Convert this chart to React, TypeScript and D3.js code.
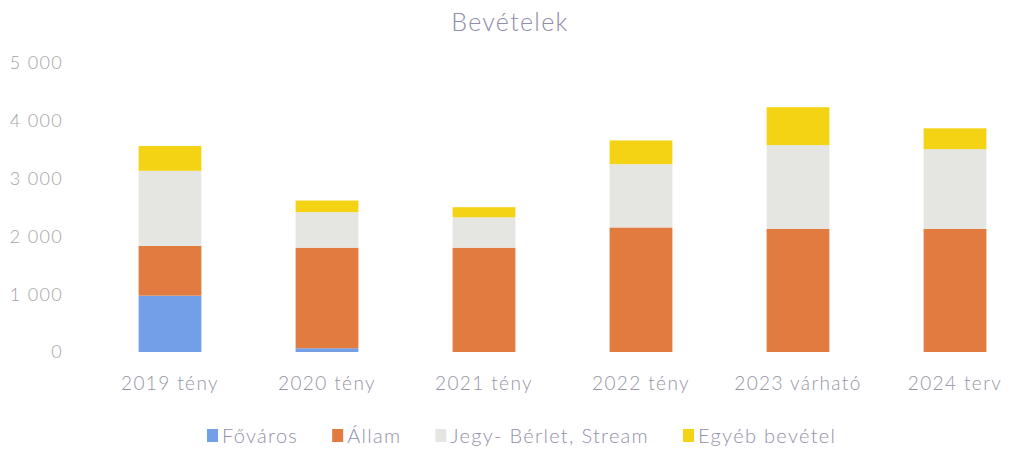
import { useEffect, useRef } from 'react';
import * as d3 from 'd3';

const categories = ['2019 tény', '2020 tény', '2021 tény', '2022 tény', '2023 várható', '2024 terv'];
const seriesNames = ['Főváros', 'Állam', 'Jegy- Bérlet, Stream', 'Egyéb bevétel'];
const fovaros = [975, 65, 0, 0, 0, 0];
const allam = [860, 1740, 1805, 2155, 2130, 2130];
const jegy = [1300, 615, 525, 1095, 1450, 1380];
const egyeb = [430, 200, 175, 410, 655, 360];
const yTicks = [0, 1000, 2000, 3000, 4000, 5000];

const colors = ['#739fe9', '#e27b40', '#e5e5e2', '#f4d314'];

const App = () => {
  const svgRef = useRef<SVGSVGElement>(null);

  const width = 1010;
  const height = 453;

  useEffect(() => {
    if (!svgRef.current) return;
    const svg = d3.select(svgRef.current);
    svg.selectAll('*').remove();

    const font = 'Lato, "Open Sans", sans-serif';

    // Title
    svg.append('text')
      .attr('x', 510)
      .attr('y', 31)
      .attr('text-anchor', 'middle')
      .style('font-family', font)
      .style('font-size', '25px')
      .style('font-weight', 300)
      .style('letter-spacing', '1.3px')
      .attr('fill', '#8e8ca8')
      .text('Bevételek');

    const x = d3.scaleBand<string>()
      .domain(categories)
      .range([91.5, 1033.5])
      .paddingInner(0.6)
      .paddingOuter(0.3);

    const y = d3.scaleLinear().domain([0, 5000]).range([352, 63]);

    const rows = categories.map((c, i) => ({
      cat: c,
      s0: fovaros[i],
      s1: allam[i],
      s2: jegy[i],
      s3: egyeb[i],
    }));

    const stack = d3.stack<any>().keys(['s0', 's1', 's2', 's3']);
    const stacked = stack(rows);

    stacked.forEach((layer, li) => {
      svg.append('g')
        .selectAll('rect')
        .data(layer)
        .enter().append('rect')
        .attr('x', (d: any) => x(d.data.cat) || 0)
        .attr('width', x.bandwidth())
        .attr('y', (d) => y(d[1]))
        .attr('height', (d) => Math.max(0, y(d[0]) - y(d[1])))
        .attr('fill', colors[li]);
    });

    // Y axis labels
    const fmt = (v: number) => d3.format(',')(v).replace(/,/g, ' ');
    svg.append('g')
      .selectAll('text')
      .data(yTicks)
      .enter().append('text')
      .attr('x', 63)
      .attr('y', (d) => y(d))
      .attr('dy', '0.35em')
      .attr('text-anchor', 'end')
      .style('font-family', font)
      .style('font-size', '18px')
      .style('font-weight', 300)
      .style('letter-spacing', '1.3px')
      .attr('fill', '#a3a3a3')
      .text(fmt);

    // X axis labels
    svg.append('g')
      .selectAll('text')
      .data(categories)
      .enter().append('text')
      .attr('x', (d) => (x(d) || 0) + x.bandwidth() / 2)
      .attr('y', 390)
      .attr('text-anchor', 'middle')
      .style('font-family', font)
      .style('font-size', '19px')
      .style('font-weight', 300)
      .style('letter-spacing', '1.4px')
      .attr('fill', '#9595a3')
      .text((d) => d);

    // Legend
    const legend = svg.append('g');
    let lx = 207;
    seriesNames.forEach((name, i) => {
      legend.append('rect')
        .attr('x', lx)
        .attr('y', 429)
        .attr('width', 11)
        .attr('height', 13)
        .attr('fill', colors[i]);
      const t = legend.append('text')
        .attr('x', lx + 15)
        .attr('y', 443)
        .style('font-family', font)
        .style('font-size', '20px')
        .style('font-weight', 300)
        .style('letter-spacing', '1.3px')
        .attr('fill', '#9390a8')
        .text(name);
      const w = (t.node() as SVGTextElement).getComputedTextLength();
      lx += 15 + w + 34;
    });
  }, []);

  return (
    <svg ref={svgRef} width={width} height={height} style={{ display: 'block', position: 'absolute', left: 0, top: 0, background: 'white' }}></svg>
  );
};

export default App;
